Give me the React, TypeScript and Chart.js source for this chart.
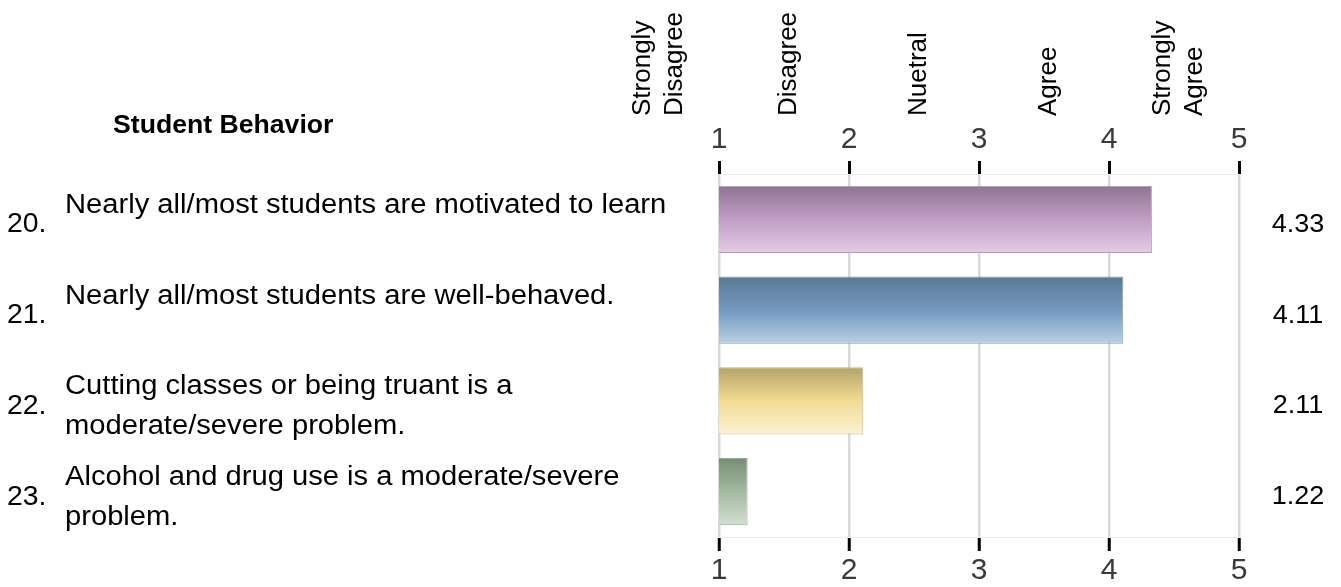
import React, { useEffect, useRef } from 'react';
import { Chart, registerables } from 'chart.js';

Chart.register(...registerables);

const SECTION_TITLE = 'Student Behavior';
const QUESTION_NUMBERS = ['20.', '21.', '22.', '23.'];
const QUESTION_LINES: string[][] = [
  ['Nearly all/most students are motivated to learn'],
  ['Nearly all/most students are well-behaved.'],
  ['Cutting classes or being truant is a', 'moderate/severe problem.'],
  ['Alcohol and drug use is a moderate/severe', 'problem.'],
];
const MEAN_SCORES = [4.33, 4.11, 2.11, 1.22];
const VALUE_LABELS = ['4.33', '4.11', '2.11', '1.22'];
const SCALE_MIN = 1;
const SCALE_MAX = 5;
const SCALE_HEADERS: string[][] = [
  ['Strongly', 'Disagree'],
  ['Disagree'],
  ['Nuetral'],
  ['Agree'],
  ['Strongly', 'Agree'],
];
const BAR_GRADIENTS: string[][] = [
  ['#8e7491', '#c29dc5', '#e3cde4'],
  ['#5a7995', '#7499be', '#bad0e5'],
  ['#b4a46c', '#f2dc93', '#fcf2d5'],
  ['#798c77', '#a4b9a1', '#d4ded4'],
];
const BAR_BORDERS = ['#b39cb5', '#87a2bd', '#c6b686', '#95a694'];

const FONT = "'Liberation Sans', Arial, Helvetica, sans-serif";
const BAR_PCT = 0.74;

function stretchedText(
  ctx: CanvasRenderingContext2D,
  text: string,
  x: number,
  y: number,
  align: CanvasTextAlign,
  sx: number,
) {
  ctx.save();
  ctx.translate(x, y);
  ctx.scale(sx, 1);
  ctx.textAlign = align;
  ctx.textBaseline = 'alphabetic';
  ctx.fillText(text, 0, 0);
  ctx.restore();
}

const annotations = {
  id: 'surveyAnnotations',
  afterDraw(chart: any) {
    const ctx: CanvasRenderingContext2D = chart.ctx;
    const xs = chart.scales.x;
    const ys = chart.scales.y;
    ctx.save();
    ctx.fillStyle = '#000000';

    // section title
    ctx.font = `bold 25px ${FONT}`;
    stretchedText(ctx, SECTION_TITLE, 113, 133, 'left', 1.065);

    // question rows
    QUESTION_LINES.forEach((lines, i) => {
      const c = ys.getPixelForValue(i);
      ctx.font = `27px ${FONT}`;
      stretchedText(ctx, QUESTION_NUMBERS[i], 7, c + 13, 'left', 1.05);
      lines.forEach((line, k) => {
        stretchedText(ctx, line, 65, c - 6.5 + k * 40, 'left', 1.08);
      });
      ctx.font = `25px ${FONT}`;
      stretchedText(ctx, VALUE_LABELS[i], 1298, c + 12.5, 'center', 1.08);
    });

    // rotated scale headers
    ctx.font = `26px ${FONT}`;
    const lineGap = 32;
    SCALE_HEADERS.forEach((lines, i) => {
      const center = xs.getPixelForValue(SCALE_MIN + i - 0.46);
      const extent = (lines.length - 1) * lineGap + 24;
      const capTop = center - extent / 2;
      lines.forEach((line, k) => {
        ctx.save();
        ctx.translate(capTop + 19 + k * lineGap, 116);
        ctx.rotate(-Math.PI / 2);
        ctx.textAlign = 'left';
        ctx.textBaseline = 'alphabetic';
        ctx.fillText(line, 0, 0);
        ctx.restore();
      });
    });
    ctx.restore();
  },
};

export default function App() {
  const canvasRef = useRef<HTMLCanvasElement | null>(null);

  useEffect(() => {
    const canvas = canvasRef.current;
    if (!canvas) return;
    Chart.defaults.font.family = FONT;

    const gradientFor = (ctx: any) => {
      const i = ctx.dataIndex;
      const stops = BAR_GRADIENTS[i ?? 0] || BAR_GRADIENTS[0];
      const chart = ctx.chart;
      const area = chart.chartArea;
      const ys = chart.scales?.y;
      if (!area || !ys || i == null) return stops[1];
      const c = ys.getPixelForValue(i);
      const half = ((area.bottom - area.top) / QUESTION_LINES.length) * BAR_PCT / 2;
      const g = chart.ctx.createLinearGradient(0, c - half, 0, c + half);
      g.addColorStop(0, stops[0]);
      g.addColorStop(0.5, stops[1]);
      g.addColorStop(1, stops[2]);
      return g;
    };

    const tickFont = { size: 30, family: FONT };

    const chart = new Chart(canvas, {
      type: 'bar',
      data: {
        labels: QUESTION_NUMBERS,
        datasets: [
          {
            data: MEAN_SCORES,
            backgroundColor: gradientFor,
            borderColor: BAR_BORDERS,
            borderWidth: 1,
            borderSkipped: false,
            barPercentage: BAR_PCT,
            categoryPercentage: 1,
          },
        ],
      },
      options: {
        indexAxis: 'y',
        animation: false,
        responsive: false,
        devicePixelRatio: 1,
        layout: { padding: { left: 719, right: 102, top: 120, bottom: 0 } },
        plugins: { legend: { display: false }, tooltip: { enabled: false } },
        scales: {
          y: { display: false, offset: true },
          x: {
            position: 'bottom',
            min: SCALE_MIN,
            max: SCALE_MAX,
            afterFit: (s: any) => {
              s.height = 50;
            },
            ticks: {
              stepSize: 1,
              padding: 2,
              color: '#3a3a3a',
              font: tickFont,
            },
            grid: {
              color: '#d9d9d9',
              lineWidth: 2.5,
              tickColor: '#000000',
              tickWidth: 3,
              tickLength: 14,
            },
            border: { display: true, color: '#eeeeee', width: 1 },
          },
          x2: {
            type: 'linear',
            position: 'top',
            axis: 'x',
            min: SCALE_MIN,
            max: SCALE_MAX,
            afterFit: (s: any) => {
              s.height = 54;
            },
            ticks: {
              stepSize: 1,
              padding: 3,
              color: '#3a3a3a',
              font: tickFont,
            },
            grid: {
              drawOnChartArea: false,
              color: '#d9d9d9',
              tickColor: '#000000',
              tickWidth: 3,
              tickLength: 13,
            },
            border: { display: true, color: '#eeeeee', width: 1 },
          },
        },
      } as any,
      plugins: [annotations],
    });

    return () => chart.destroy();
  }, []);

  return (
    <div
      style={{
        position: 'fixed',
        left: 0,
        top: 0,
        width: 1341,
        height: 587,
        background: '#ffffff',
      }}
    >
      <canvas ref={canvasRef} width={1341} height={587} style={{ display: 'block' }} />
    </div>
  );
}
